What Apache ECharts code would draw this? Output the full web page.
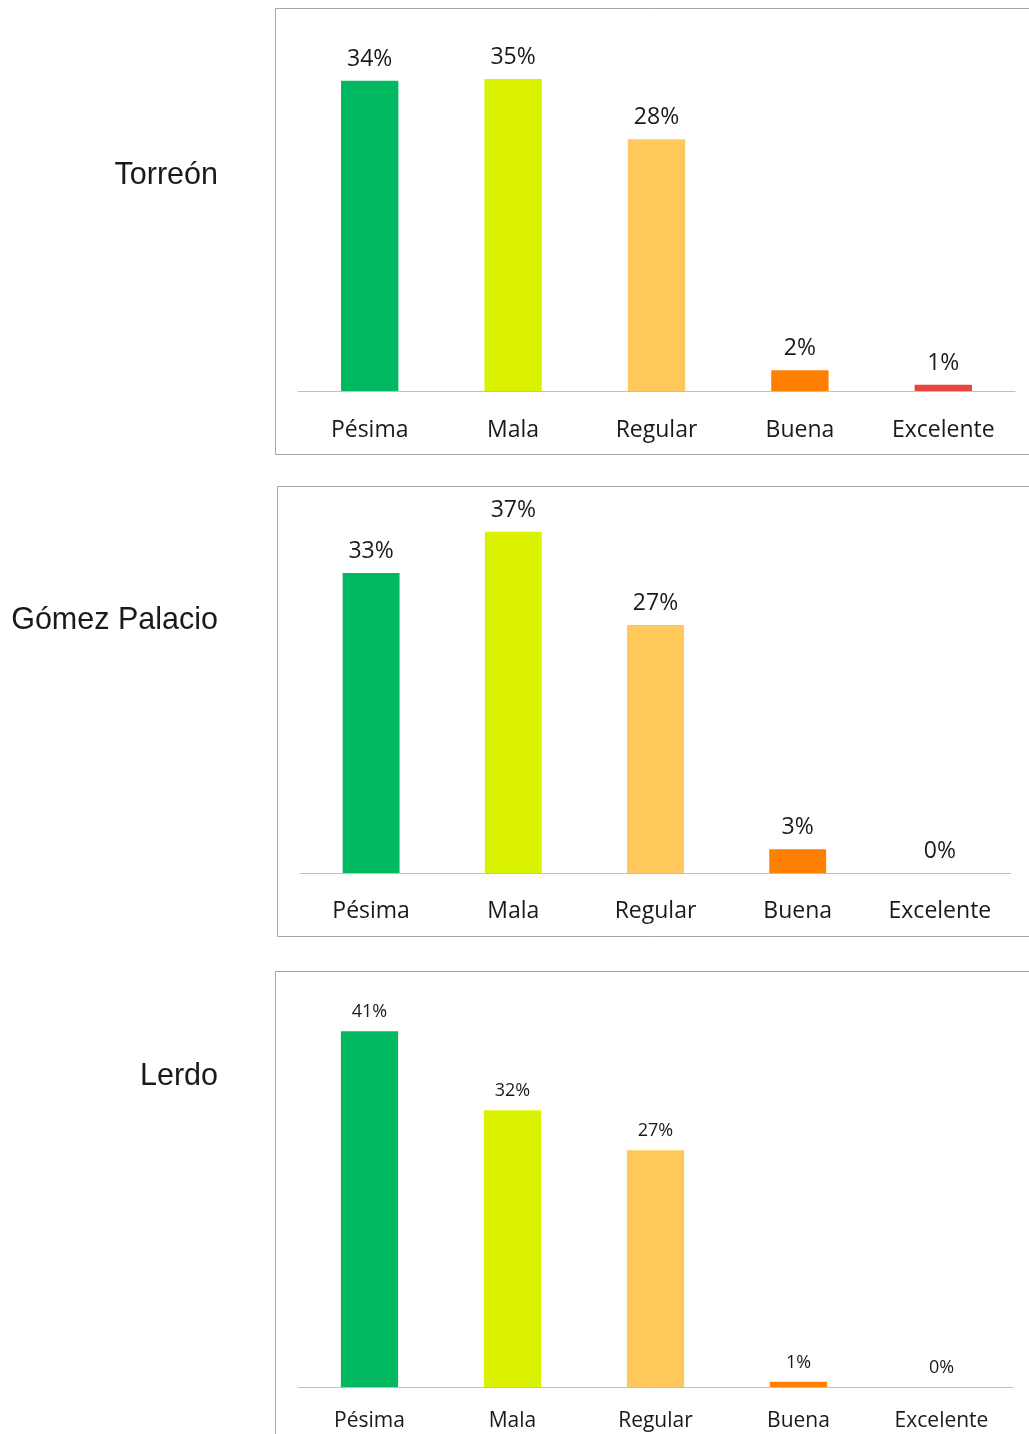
<!DOCTYPE html>
<html lang="es">
<head>
    <meta charset="UTF-8">
    <title>Calificación por municipio</title>
    <script src="https://cdn.jsdelivr.net/npm/echarts@6/dist/echarts.min.js"></script>
    <style>
        * { margin: 0; padding: 0; }
        body { background: #fff; }
        #main { width: 1029px; height: 1434px; }
    </style>
</head>
<body>
    <div id="main"></div>
<script>
    // categorías comunes
    var categorias = ['Pésima', 'Mala', 'Regular', 'Buena', 'Excelente'];
    var municipios = ['Torreón', 'Gómez Palacio', 'Lerdo'];

    // porcentajes (la etiqueta se redondea)
    var torreon = [34.4, 34.6, 27.9, 2.3, 0.7];
    var gomezPalacio = [32.8, 37.3, 27.1, 2.6, 0];
    var lerdo = [40.9, 31.8, 27.2, 0.6, 0];

    // colores de cada categoría
    var colores = ['#00b960', '#daf200', '#ffc85b', '#ff7f00', '#e8453c'];

    var myChart = echarts.init(document.getElementById('main'));

    // posición de cada panel: eje x, altura, tamaños de letra
    var paneles = [
        { datos: torreon, top: 30.2, height: 360.8, max: 40, left: 298, width: 717, valFont: 23, catFont: 23, margin: 28 },
        { datos: gomezPalacio, top: 507, height: 366, max: 40, left: 300, width: 711, valFont: 23, catFont: 23, margin: 27 },
        { datos: lerdo, top: 995.5, height: 391.5, max: 45, left: 298, width: 715, valFont: 18, catFont: 21, margin: 24 }
    ];

    var grid = [], xAxis = [], yAxis = [], series = [];
    paneles.forEach(function(p, i) {
        grid.push({ left: p.left, top: p.top, width: p.width, height: p.height });
        xAxis.push({
            type: 'category',
            gridIndex: i,
            data: categorias,
            axisLine: { lineStyle: { color: '#bfbfbf', width: 1 } },
            axisTick: { show: false },
            axisLabel: {
                margin: p.margin,
                fontFamily: 'Open Sans',
                fontSize: p.catFont,
                color: '#1a1a1a'
            }
        });
        yAxis.push({
            type: 'value',
            gridIndex: i,
            min: 0,
            max: p.max,
            show: false,
            splitLine: { show: false }
        });
        series.push({
            type: 'bar',
            xAxisIndex: i,
            yAxisIndex: i,
            barWidth: '40%',
            data: p.datos.map(function(v, k) {
                return { value: v, itemStyle: { color: colores[k] } };
            }),
            label: {
                show: true,
                position: 'top',
                distance: 10,
                fontFamily: 'Open Sans',
                fontSize: p.valFont,
                color: '#1a1a1a',
                formatter: function(d) { return Math.round(d.value) + '%'; }
            },
            animation: false
        });
    });

    // marcos y nombres de municipio
    var cajas = [
        { x: 275.5, y: 8.5, h: 446 },
        { x: 277.5, y: 486.5, h: 450 },
        { x: 275.5, y: 971.5, h: 500 }
    ];
    var nombresY = [176, 621, 1077];
    var graphic = [];
    cajas.forEach(function(c) {
        graphic.push({
            type: 'rect',
            shape: { x: c.x, y: c.y, width: 800, height: c.h },
            style: { fill: 'none', stroke: '#a6a6a6', lineWidth: 1 },
            silent: true
        });
    });
    municipios.forEach(function(n, i) {
        graphic.push({
            type: 'text',
            x: 218,
            y: nombresY[i],
            style: {
                text: n,
                align: 'right',
                verticalAlign: 'middle',
                fontFamily: 'Liberation Sans',
                fontSize: 30.5,
                fill: '#1a1a1a'
            }
        });
    });

    var option = {
        backgroundColor: '#fff',
        animation: false,
        grid: grid,
        xAxis: xAxis,
        yAxis: yAxis,
        series: series,
        graphic: graphic
    };
    myChart.setOption(option);
</script>
</body>
</html>
